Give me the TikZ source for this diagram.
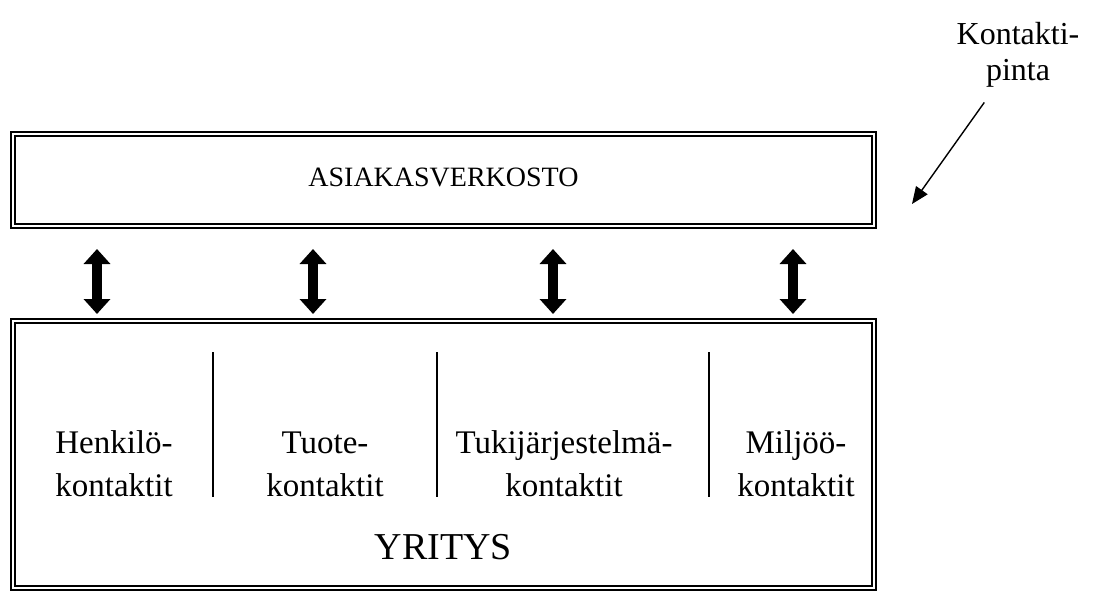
\documentclass[tikz,border=0pt]{standalone}
\usepackage{fontspec}
\setmainfont{Liberation Serif}
\usetikzlibrary{arrows.meta,positioning,calc}

\begin{document}
\begin{tikzpicture}[
    x=1pt, y=-1pt,
    dbox/.style={draw, double, line width=1.8pt, double distance=2.6pt,
                 inner sep=0pt, outer sep=0pt},
    bigarr/.style={{Triangle[length=15pt,width=26pt]}-{Triangle[length=15pt,width=26pt]},
                   line width=9.5pt},
    pointer/.style={-{Triangle[length=17pt,width=14pt]}, line width=1.4pt},
    col/.style={align=center, font=\fontsize{33}{43}\selectfont},
    sep/.style={line width=1.3pt}
  ]
    \useasboundingbox (0,0) rectangle (1101,592);

    \node[dbox, minimum width=861pt, minimum height=92pt] (asiakas) at (443.5,180) {};
    \node[font=\fontsize{28}{32}\selectfont] (asiakasteksti) at (443.5,177) {ASIAKASVERKOSTO};

    \node[dbox, minimum width=861pt, minimum height=267pt] (yritys) at (443.5,454.5) {};

    % Contact columns
    \node[col] (henkilo) at (114,464) {Henkilö-\\kontaktit};
    \node[col] (tuote) at (325,464) {Tuote-\\kontaktit};
    \node[col] (tuki) at (564,464) {Tukijärjestelmä-\\kontaktit};
    \node[col] (miljoo) at (796,464) {Miljöö-\\kontaktit};

    \foreach \x in {213,437,709}
      \draw[sep] (\x,352) -- (\x,497);

    \node[font=\fontsize{38}{42}\selectfont] (yritysteksti) at (443.5,547) {YRITYS};

    % Arrows between the boxes
    \foreach \x in {84,300,540,780}
      \draw[bigarr, shorten <=23pt, shorten >=7pt]
        ([xshift=\x pt]asiakas.south west) -- ([xshift=\x pt]yritys.north west);

    % Contact surface
    \node[align=center, font=\fontsize{32}{36}\selectfont] (kontakti) at (1018,55) {Kontakti-\\pinta};
    \coordinate (kohta) at (912,204);
    \draw[pointer, shorten <=14pt] (kontakti) -- (kohta);
  \end{tikzpicture}
\end{document}
